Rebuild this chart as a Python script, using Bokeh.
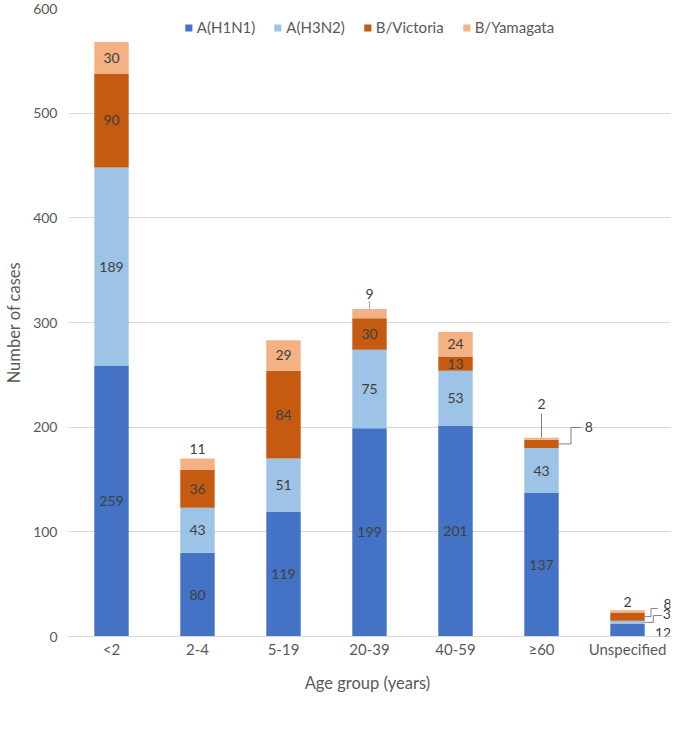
from bokeh.plotting import figure
from bokeh.models import (Range1d, FixedTicker, Label, Legend, LegendItem,
                          ColumnDataSource, LabelSet)
from bokeh.core.properties import value
from bokeh.embed import file_html
from bokeh.resources import INLINE

# ---------------- data ----------------
categories = ["<2", "2-4", "5-19", "20-39", "40-59", "\u226560", "Unspecified"]
series_names = ["A(H1N1)", "A(H3N2)", "B/Victoria", "B/Yamagata"]
h1n1 = [259, 80, 119, 199, 201, 137, 12]
h3n2 = [189, 43, 51, 75, 53, 43, 3]
victoria = [90, 36, 84, 30, 13, 8, 8]
yamagata = [30, 11, 29, 9, 24, 2, 2]
y_ticks = [0, 100, 200, 300, 400, 500, 600]

# ---------------- style ----------------
colors = ["#4472C4", "#9DC3E6", "#C55A11", "#F4B183"]
FONT = "Lato"
GREY = "#595959"
LABEL_COLOR = "#404040"
GRID = "#D9D9D9"

series = [h1n1, h3n2, victoria, yamagata]
n = len(categories)
xs = [i + 0.5 for i in range(n)]
keys = ["s0", "s1", "s2", "s3"]

p = figure(width=685, height=747, x_range=Range1d(0, n), y_range=Range1d(0, 600),
           output_backend="svg", toolbar_location=None,
           min_border_left=68, min_border_right=15, min_border_top=8,
           min_border_bottom=111)
p.outline_line_color = None
p.background_fill_color = "white"
p.border_fill_color = "white"

src = ColumnDataSource(dict(x=xs, **{k: s for k, s in zip(keys, series)}))
rends = p.vbar_stack(keys, x="x", width=0.4, color=colors, line_color=None, source=src)

# axes
p.xaxis.ticker = FixedTicker(ticks=xs)
p.xaxis.major_label_overrides = {x: c for x, c in zip(xs, categories)}
p.xaxis.major_tick_line_color = None
p.xaxis.major_tick_out = 0
p.xaxis.minor_tick_line_color = None
p.xaxis.axis_line_color = GRID
p.xaxis.major_label_text_font = FONT
p.xaxis.major_label_text_font_size = "15px"
p.xaxis.major_label_text_color = GREY
p.xaxis.major_label_standoff = 3
p.xaxis.axis_label = "Age group  (years)"
p.xaxis.axis_label_text_font = FONT
p.xaxis.axis_label_text_font_size = "16.5px"
p.xaxis.axis_label_text_font_style = "normal"
p.xaxis.axis_label_text_color = GREY
p.xaxis.axis_label_standoff = 12

p.yaxis.ticker = FixedTicker(ticks=y_ticks)
p.yaxis.major_tick_line_color = None
p.yaxis.major_tick_out = 0
p.yaxis.minor_tick_line_color = None
p.yaxis.axis_line_color = None
p.yaxis.major_label_text_font = FONT
p.yaxis.major_label_text_font_size = "14px"
p.yaxis.major_label_text_color = GREY
p.yaxis.major_label_standoff = 11
p.yaxis.axis_label = "Number of cases"
p.yaxis.axis_label_text_font = FONT
p.yaxis.axis_label_text_font_size = "16.5px"
p.yaxis.axis_label_text_font_style = "normal"
p.yaxis.axis_label_text_color = GREY
p.yaxis.axis_label_standoff = 6

p.xgrid.grid_line_color = None
p.ygrid.grid_line_color = GRID
p.ygrid.ticker = FixedTicker(ticks=y_ticks)

# ---------------- data labels ----------------
# segments whose labels are placed outside (series index, category index)
outside = {(3, 1), (3, 3), (2, 5), (3, 5), (0, 6), (1, 6), (2, 6), (3, 6)}

lx, ly, lt = [], [], []
bottoms = [0] * n
seg = {}
for si, s in enumerate(series):
    for ci, v in enumerate(s):
        b = bottoms[ci]
        seg[(si, ci)] = (b, b + v)
        if (si, ci) not in outside:
            lx.append(xs[ci]); ly.append(b + v / 2); lt.append(str(v))
        bottoms[ci] = b + v

lab_src = ColumnDataSource(dict(x=lx, y=ly, t=lt))
p.add_layout(LabelSet(x="x", y="y", text="t", source=lab_src, text_align="center",
                      text_baseline="middle", text_font=value(FONT),
                      text_font_size=value("14px"), text_color=value(LABEL_COLOR)))

def add_label(x, y, txt, align="center"):
    p.add_layout(Label(x=x, y=y, text=txt, text_align=align, text_baseline="middle",
                       text_font=FONT, text_font_size="14px", text_color=LABEL_COLOR))

LEAD = "#7F7F7F"

# label directly above the stack
for (si, ci, gap) in [(3, 1, 9), (3, 6, 7.5)]:
    top = seg[(si, ci)][1]
    add_label(xs[ci], top + gap, str(series[si][ci]))

# label above with vertical leader
for (si, ci, line_len, gap, col) in [(3, 3, 7.3, 14.7, "#8FAADC"), (3, 5, 23, 32.6, LEAD)]:
    top = seg[(si, ci)][1]
    p.line([xs[ci], xs[ci]], [top, top + line_len], line_color=col, line_width=1)
    add_label(xs[ci], top + gap, str(series[si][ci]))

# elbow leaders to the right: (series, cat, a, b, rise, label dx, label dy, align)
for (si, ci, a, b, rise, cdx, cdy, al) in [(2, 5, 0.343, 0.46, 15.7, 0.55, 0.3, "center"),
                                           (2, 6, 0.273, 0.351, 7.8, 0.467, 3.8, "center"),
                                           (1, 6, 0.30, 0.40, 6.5, 0.41, 1.7, "left")]:
    b0, b1 = seg[(si, ci)]
    mid = (b0 + b1) / 2
    cx = xs[ci]
    p.line([cx + 0.2, cx + a, cx + a, cx + b], [mid, mid, mid + rise, mid + rise],
           line_color=LEAD, line_width=1)
    add_label(cx + cdx, mid + rise + cdy, str(series[si][ci]), align=al)

# label to the lower right, no leader
add_label(xs[6] + 0.413, 3.8, str(h1n1[6]))

# ---------------- legend ----------------
legend = Legend(items=[LegendItem(label=nm, renderers=[r]) for nm, r in zip(series_names, rends)],
                orientation="horizontal", location="top_center",
                glyph_width=9, glyph_height=9, label_standoff=4, spacing=18,
                padding=4, margin=10, border_line_color=None, background_fill_color="white",
                background_fill_alpha=1.0,
                label_text_font=FONT, label_text_font_size="15px", label_text_color=GREY)
p.add_layout(legend, "center")

open("out.html", "w").write(file_html(p, INLINE))
